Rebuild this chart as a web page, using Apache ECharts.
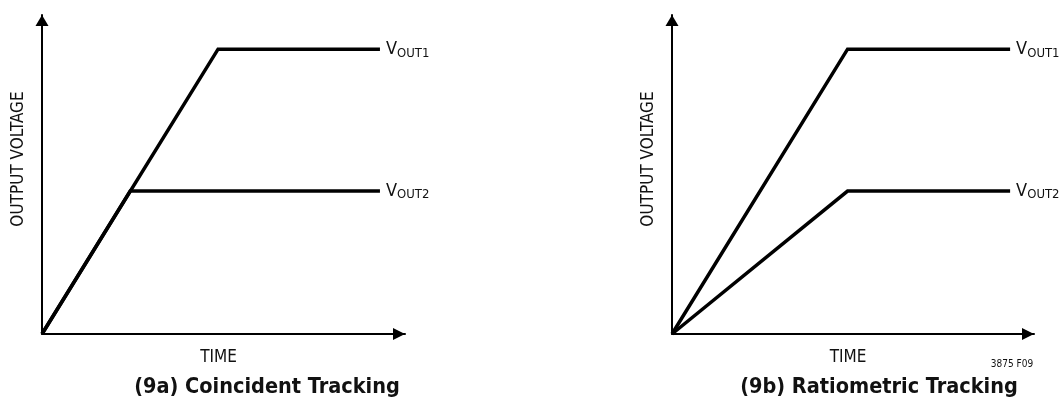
<!DOCTYPE html>
<html><head><meta charset="utf-8">
<script src="https://cdn.jsdelivr.net/npm/echarts@6/dist/echarts.min.js"></script>
<style>html,body{margin:0;padding:0;background:#fff}#c{width:1060px;height:412px}</style>
</head><body><div id="c"></div>
<script>
// Data (arbitrary normalized units, 0..100 on each axis)
const vout1A = [[0,0],[48.5,89.3],[93.1,89.3]];
const vout2A = [[0,0],[24.3,44.8],[93.1,44.8]];
const vout1B = [[0,0],[48.5,89.3],[93.4,89.3]];
const vout2B = [[0,0],[48.5,44.8],[93.4,44.8]];
const seriesNames = ['VOUT1','VOUT2'];
const xName = 'TIME';
const yName = 'OUTPUT VOLTAGE';
const titles = ['(9a) Coincident Tracking','(9b) Ratiometric Tracking'];
const figId = '3875 F09';

const FONT = "'Liberation Sans Narrow','DejaVu Sans Condensed','Liberation Sans',sans-serif";
const chart = echarts.init(document.getElementById('c'));

function axisPair(i){
  return {
    x: {type:'value', gridIndex:i, min:0, max:100, name:xName, nameLocation:'middle', nameGap:15,
        nameTextStyle:{fontFamily:FONT, fontSize:17, color:'#111', verticalAlign:'top', padding:[0,10,0,0]},
        axisLine:{show:true, onZero:false, symbol:['none','triangle'], symbolSize:[12,12], symbolOffset:[0,-6], lineStyle:{color:'#000', width:2}},
        axisTick:{show:false}, axisLabel:{show:false}, splitLine:{show:false}},
    y: {type:'value', gridIndex:i, min:0, max:100,
        axisLine:{show:true, onZero:false, symbol:['none','triangle'], symbolSize:[13,11], symbolOffset:[0,-5.5], lineStyle:{color:'#000', width:2}},
        axisTick:{show:false}, axisLabel:{show:false}, splitLine:{show:false}}
  };
}
const a0 = axisPair(0), a1 = axisPair(1);

function lineSeries(data, i, name){
  const sub = name.slice(1);
  return {
    type:'line', name:name, xAxisIndex:i, yAxisIndex:i, data:data,
    showSymbol:false, symbol:'none', clip:false, animation:false,
    lineStyle:{color:'#000', width:3.5, cap:'butt', join:'miter'},
    endLabel:{show:true, distance:6, formatter:'{v|V}{s|'+sub+'}',
      rich:{v:{fontFamily:FONT, fontSize:18, color:'#111'}, s:{fontFamily:FONT, fontSize:13, color:'#111', padding:[8,0,0,0]}}}
  };
}

chart.setOption({
  backgroundColor:'#fff',
  animation:false,
  grid:[
    {left:42, top:15, width:363, bottom:78},
    {left:672, top:15, width:362, bottom:78}
  ],
  xAxis:[a0.x, a1.x],
  yAxis:[a0.y, a1.y],
  series:[
    lineSeries(vout1A,0,seriesNames[0]),
    lineSeries(vout2A,0,seriesNames[1]),
    lineSeries(vout1B,1,seriesNames[0]),
    lineSeries(vout2B,1,seriesNames[1])
  ],
  graphic:[
    {type:'text', x:19, y:159, rotation:Math.PI/2, style:{text:yName, fontFamily:FONT, fontSize:17, fill:'#111', align:'center', verticalAlign:'middle'}},
    {type:'text', x:649, y:159, rotation:Math.PI/2, style:{text:yName, fontFamily:FONT, fontSize:17, fill:'#111', align:'center', verticalAlign:'middle'}},
    {type:'text', x:267, y:387, style:{text:titles[0], fontFamily:FONT, fontSize:21.5, fontWeight:'bold', fill:'#111', align:'center', verticalAlign:'middle'}},
    {type:'text', x:879, y:387, style:{text:titles[1], fontFamily:FONT, fontSize:21.5, fontWeight:'bold', fill:'#111', align:'center', verticalAlign:'middle'}},
    {type:'text', x:1012, y:364, style:{text:figId, fontFamily:FONT, fontSize:10, fill:'#111', align:'center', verticalAlign:'middle'}}
  ]
});
</script></body></html>
